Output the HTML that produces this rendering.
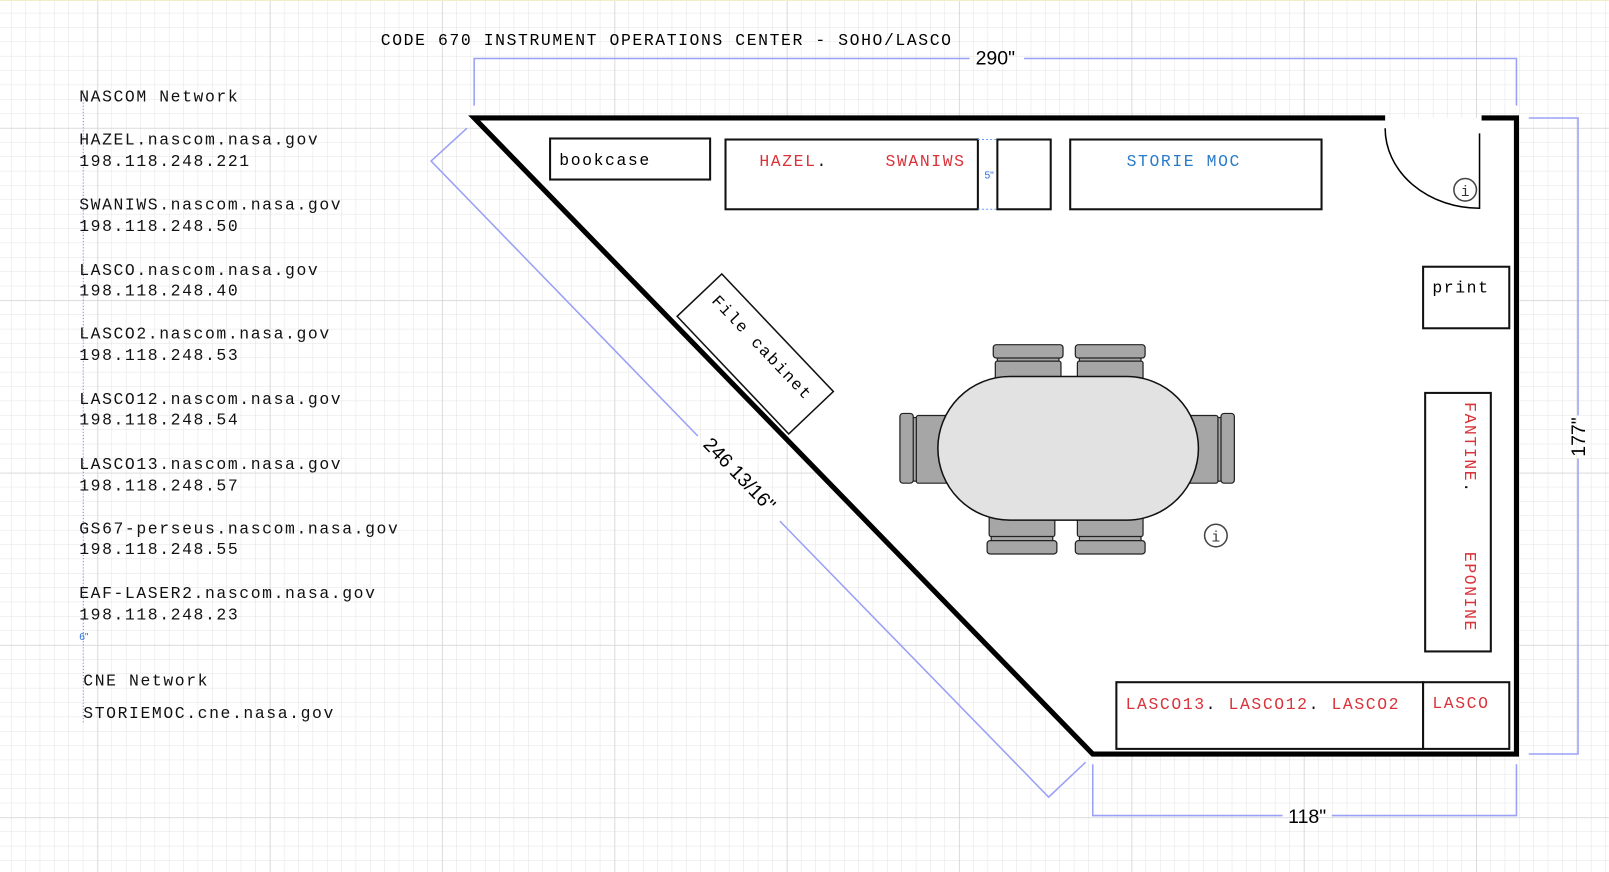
<!DOCTYPE html>
<html><head><meta charset="utf-8"><style>
html,body{margin:0;padding:0;background:#fff;}
svg{display:block;}
text{font-family:"Liberation Mono","DejaVu Sans Mono",monospace;}
.m{letter-spacing:1.55px;}
</style></head><body>
<svg width="1609" height="872" viewBox="0 0 1568 850" xmlns="http://www.w3.org/2000/svg">
<defs>
<pattern id="g" x="11" y="13" width="14" height="14" patternUnits="userSpaceOnUse">
<path d="M14 0V14M0 14H14" fill="none" stroke="#e3e3e3" stroke-width="1"/>
</pattern>
<pattern id="G" x="95" y="125" width="168" height="168" patternUnits="userSpaceOnUse">
<path d="M0 0V168M0 0H168" fill="none" stroke="#cfcfcf" stroke-width="1"/>
</pattern>
</defs>
<rect width="1568" height="850" fill="#fff"/>
<rect width="1568" height="850" fill="url(#g)"/>
<rect width="1568" height="850" fill="url(#G)"/>
<line x1="0" y1="0.5" x2="1568" y2="0.5" stroke="#f3edc8"/>

<polygon points="462,115 1478,115 1478,735 1065,735" fill="#fff"/>
<path d="M1350,115 H462 L1065,735 H1478 V115 H1444" fill="none" stroke="#000" stroke-width="5"/>
<path d="M1350,125 A92,78 0 0 0 1442,203 V130" fill="none" stroke="#000" stroke-width="1.5"/>
<circle cx="1428" cy="185" r="11" fill="none" stroke="#444" stroke-width="1.5"/>
<text x="1428" y="191" font-size="14" text-anchor="middle" fill="#333">i</text>

<g fill="none" stroke="#9aa0f5" stroke-width="1.5">
<path d="M462,103 V57 H945 M998,57 H1478 V103"/>
<path d="M1490,115 H1538 V405 M1538,447 V735 H1490"/>
<path d="M1065,745 V795 H1250 M1298,795 H1478 V745"/>
<path d="M455,125 L420,157 L680,425 M760,508 L1022,777 L1058,743"/>
</g>
<text x="970" y="63" font-size="19" text-anchor="middle" style="font-family:'Liberation Sans',sans-serif">290"</text>
<text x="1274" y="802" font-size="19" text-anchor="middle" style="font-family:'Liberation Sans',sans-serif">118"</text>
<text transform="translate(1545,426) rotate(-90)" font-size="19" text-anchor="middle" style="font-family:'Liberation Sans',sans-serif">177"</text>
<text transform="translate(716,467) rotate(46)" font-size="19" text-anchor="middle" style="font-family:'Liberation Sans',sans-serif">246 13/16"</text>

<text class="m" x="371" y="44" font-size="16">CODE 670 INSTRUMENT OPERATIONS CENTER - SOHO/LASCO</text>
<line x1="81" y1="88" x2="81" y2="705" stroke="#5b8ef0" stroke-width="1" stroke-dasharray="1,2"/>
<g class="m" font-size="16" fill="#111">
<text x="77" y="99">NASCOM Network</text>
<text x="77" y="141">HAZEL.nascom.nasa.gov</text>
<text x="77" y="162">198.118.248.221</text>
<text x="77" y="204">SWANIWS.nascom.nasa.gov</text>
<text x="77" y="225">198.118.248.50</text>
<text x="77" y="268">LASCO.nascom.nasa.gov</text>
<text x="77" y="288">198.118.248.40</text>
<text x="77" y="330">LASCO2.nascom.nasa.gov</text>
<text x="77" y="351">198.118.248.53</text>
<text x="77" y="394">LASCO12.nascom.nasa.gov</text>
<text x="77" y="414">198.118.248.54</text>
<text x="77" y="457">LASCO13.nascom.nasa.gov</text>
<text x="77" y="478">198.118.248.57</text>
<text x="77" y="520">GS67-perseus.nascom.nasa.gov</text>
<text x="77" y="540">198.118.248.55</text>
<text x="77" y="583">EAF-LASER2.nascom.nasa.gov</text>
<text x="77" y="604">198.118.248.23</text>
<text x="81" y="668">CNE Network</text>
<text x="81" y="700">STORIEMOC.cne.nasa.gov</text>
</g>
<text x="77" y="624" font-size="10" fill="#2a6fe0" style="font-family:'Liberation Sans',sans-serif">6"</text>

<g fill="#fff" stroke="#111" stroke-width="2">
<rect x="536" y="135" width="156" height="40"/>
<rect x="707" y="136" width="246" height="68"/>
<rect x="972" y="136" width="52" height="68"/>
<rect x="1043" y="136" width="245" height="68"/>
<rect x="1387" y="260" width="84" height="60"/>
<rect x="1389" y="383" width="64" height="252"/>
<rect x="1088" y="665" width="299" height="65"/>
<rect x="1387" y="665" width="84" height="65"/>
</g>
<path d="M953,136 H972 M953,204 H972" stroke="#6a9cf0" stroke-dasharray="2,2"/>
<text x="964" y="174" font-size="10" fill="#2a6fe0" text-anchor="middle" style="font-family:'Liberation Sans',sans-serif">5"</text>
<g class="m" font-size="16">
<text x="545" y="161">bookcase</text>
<text x="740" y="162" fill="#d9333a">HAZEL<tspan fill="#111">.</tspan></text>
<text x="863" y="162" fill="#d9333a">SWANIWS</text>
<text x="1098" y="162" fill="#2a7bc9">STORIE MOC</text>
<text x="1396" y="285">print</text>
<text transform="translate(1428,392) rotate(90)" fill="#d9333a">FANTINE<tspan fill="#111">.</tspan></text>
<text transform="translate(1428,538) rotate(90)" fill="#d9333a">EPONINE</text>
<text x="1097" y="691" fill="#d9333a">LASCO13<tspan fill="#111">.</tspan> LASCO12<tspan fill="#111">.</tspan> LASCO2</text>
<text x="1396" y="690" fill="#d9333a">LASCO</text>
</g>

<g transform="translate(736,345) rotate(46.5)">
<rect x="-79" y="-30" width="158" height="60" fill="#fff" stroke="#111" stroke-width="1.5"/>
<text class="m" x="0" y="-4" font-size="16" text-anchor="middle">File cabinet</text>
</g>

<g fill="#a6a6a6" stroke="#222" stroke-width="1.2">
<rect x="972" y="345" width="60" height="12"/><rect x="968" y="336" width="68" height="13" rx="3"/><rect x="970" y="352" width="64" height="20" rx="2"/>
<rect x="1052" y="345" width="60" height="12"/><rect x="1048" y="336" width="68" height="13" rx="3"/><rect x="1050" y="352" width="64" height="20" rx="2"/>
<rect x="966" y="517" width="60" height="12"/><rect x="962" y="527" width="68" height="13" rx="3"/><rect x="964" y="502" width="64" height="21" rx="2"/>
<rect x="1052" y="517" width="60" height="12"/><rect x="1048" y="527" width="68" height="13" rx="3"/><rect x="1050" y="502" width="64" height="21" rx="2"/>
<rect x="886" y="407" width="10" height="62"/><rect x="877" y="403" width="13" height="68" rx="3"/><rect x="893" y="405" width="32" height="66" rx="2"/>
<rect x="1184" y="407" width="10" height="62"/><rect x="1190" y="403" width="13" height="68" rx="3"/><rect x="1155" y="405" width="32" height="66" rx="2"/>
</g>
<rect x="914" y="367" width="254" height="140" rx="70" ry="70" fill="#e2e2e2" stroke="#111" stroke-width="1.5"/>
<circle cx="1185" cy="522" r="11" fill="none" stroke="#444" stroke-width="1.5"/>
<text x="1185" y="528" font-size="14" text-anchor="middle" fill="#333">i</text>
</svg>
</body></html>
